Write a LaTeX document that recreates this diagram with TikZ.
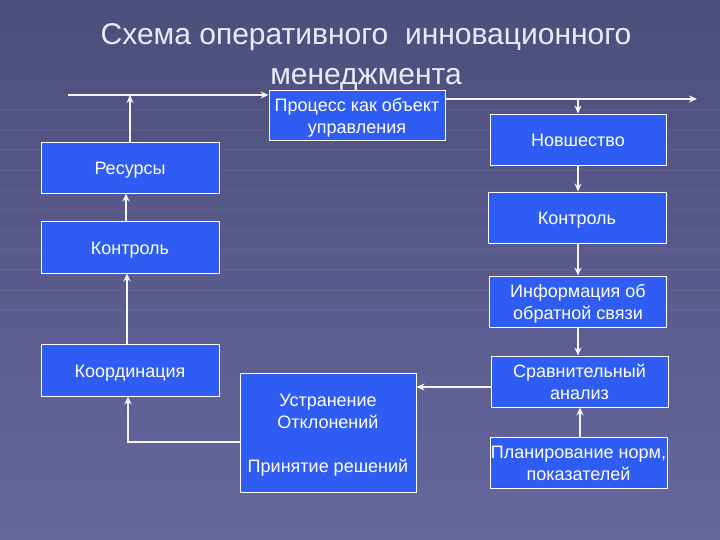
\documentclass[tikz,border=0pt]{standalone}
\usepackage{fontspec}
\setmainfont{Liberation Sans}
\usetikzlibrary{arrows.meta}
\definecolor{bgtop}{HTML}{4E4E7C}
\definecolor{bgbot}{HTML}{65669C}
\definecolor{boxblue}{HTML}{2F5DF4}
\definecolor{titlecol}{HTML}{E4EEFA}
\newcommand\boxtxt[1]{\raisebox{0pt}[\dimexpr\height+6pt\relax][\depth]{\begin{tabular}{@{}c@{}}#1\end{tabular}}}
\tikzset{
  box/.style={draw=white, line width=0.9pt, fill=boxblue, text=white, font=\fontsize{18}{22}\selectfont, inner sep=0pt},
  conn/.style={draw=white!92!gray, line width=2.4pt, -{Stealth[length=8pt,width=7pt]}},
  plain/.style={draw=white!92!gray, line width=2.4pt},
}
\begin{document}
\begin{tikzpicture}[x=1pt,y=-1pt]
\useasboundingbox (0,0) rectangle (720,540);
\shade[top color=bgtop, bottom color=bgbot] (0,0) rectangle (720,540);
% faint stripes
\foreach \yy in {110,130,150,170,190,210,230,250,270,290,310}
  \draw[white, opacity=0.04, line width=1.5pt] (0,\yy) -- (720,\yy);
\node[text=titlecol, font=\fontsize{30}{40}\selectfont, align=center] (title) at (366,57) {Схема оперативного\ \ инновационного\\менеджмента};

\node[box, minimum width=176pt, minimum height=50pt] (proc) at (357,115) {\boxtxt{Процесс как объект\\управления}};
\node[box, minimum width=176pt, minimum height=51pt] (nov) at (578,139.5) {\boxtxt{Новшество}};
\node[box, minimum width=178pt, minimum height=51pt] (kr) at (577,217.5) {\boxtxt{Контроль}};
\node[box, minimum width=178pt, minimum height=51pt] (res) at (130,167.5) {\boxtxt{Ресурсы}};
\node[box, minimum width=178pt, minimum height=52pt] (kl) at (130,247) {\boxtxt{Контроль}};
\node[box, minimum width=177pt, minimum height=51pt] (inf) at (578,301.5) {\boxtxt{Информация об\\обратной связи}};
\node[box, minimum width=177pt, minimum height=51pt] (cmp) at (579.5,381.5) {\boxtxt{Сравнительный\\анализ}};
\node[box, minimum width=177pt, minimum height=51pt] (plan) at (578.5,462.5) {\boxtxt{Планирование норм,\\показателей}};
\node[box, minimum width=178pt, minimum height=52pt] (coord) at (130,370) {\boxtxt{Координация}};
\node[box, minimum width=176pt, minimum height=119pt] (ustr) at (328,432.5) {\boxtxt{Устранение\\Отклонений\\ \\Принятие решений}};

\coordinate (tl) at (68,95);
\coordinate (tr) at (697,99);
\coordinate (jn) at (578,99);
\coordinate (bend) at (128,442);

\draw[plain] (tl) -- (tl -| res.north);
\draw[conn] (tl -| res.north) -- (tl -| proc.west);
\draw[conn] (res.north) -- (tl -| res.north);
\draw[conn] (tr -| proc.east) -- (tr);
\draw[conn] (jn) -- (nov.north);
\draw[conn] (nov.south) -- (kr.north -| nov.south);
\draw[conn] (kr.south -| inf.north) -- (inf.north);
\draw[conn] (inf.south) -- (cmp.north -| inf.south);
\draw[conn] (plan.north -| 580,0) -- (cmp.south -| 580,0);
\draw[conn] (cmp.west |- 0,387) -- (ustr.east |- 0,387);
\draw[conn] (ustr.west |- bend) -- (bend) -- (coord.south -| bend);
\draw[conn] (coord.north -| 127,0) -- (kl.south -| 127,0);
\draw[conn] (kl.north -| 126,0) -- (res.south -| 126,0);
\end{tikzpicture}
\end{document}
